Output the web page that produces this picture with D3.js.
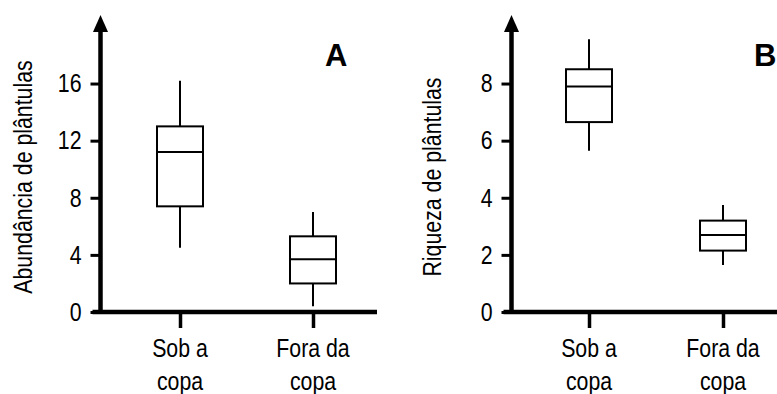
<!DOCTYPE html>
<meta charset="utf-8">
<style>
body { margin: 0; background: #fff; }
text { font-family: "Liberation Sans", Arial, sans-serif; fill: #000; }
.label { font-size: 26px; }
.letter { font-weight: bold; font-size: 31px; }
.box { fill: #fff; stroke: #000; stroke-width: 2px; }
.whisker, .median { stroke: #000; stroke-width: 2px; }
</style>
<body>
<script src="https://d3js.org/d3.v7.min.js"></script>
<script>

// categories (two lines each) and five-number summaries [min, q1, median, q3, max]
var categories = ["Sob a copa", "Fora da copa"];
var categoryLines = [["Sob a", "copa"], ["Fora da", "copa"]];
var abundanciaStats = [[4.5, 7.4, 11.2, 13.0, 16.2], [0.4, 2.0, 3.7, 5.3, 7.0]];
var riquezaStats = [[5.65, 6.65, 7.9, 8.5, 9.55], [1.65, 2.15, 2.7, 3.2, 3.75]];
var abundanciaTicks = [0, 4, 8, 12, 16];
var riquezaTicks = [0, 2, 4, 6, 8];

var width = 777, height = 394;
var narrow = 0.82; // the original uses a condensed face, squeeze the text horizontally

var svg = d3.select("body").append("svg")
    .attr("width", width)
    .attr("height", height);

// draw one panel
function panel(opt) {
  var g = svg.append("g");

  var y = d3.scaleLinear().domain([0, opt.yMax]).range([312, opt.yTop]);
  var x = d3.scalePoint().domain(categories).range(opt.xRange);

  // y axis with ticks
  var yAxis = g.append("g")
      .attr("transform", "translate(" + opt.axisX + ",0)")
      .call(d3.axisLeft(y).tickValues(opt.ticks).tickSize(10).tickPadding(9));
  yAxis.select(".domain").remove();
  yAxis.selectAll(".tick line").attr("stroke-width", 3);
  yAxis.selectAll(".tick text")
      .attr("class", "label").attr("font-size", null).attr("font-family", null)
      .attr("x", -19 / narrow)
      .attr("transform", "scale(" + narrow + ",1)");

  // vertical axis line and arrow
  g.append("line")
      .attr("x1", opt.axisX).attr("x2", opt.axisX)
      .attr("y1", y(0) + 2).attr("y2", y(opt.yMax) + 14)
      .attr("stroke", "#000").attr("stroke-width", 4.5);
  g.append("path")
      .attr("d", "M" + (opt.axisX - 7.5) + "," + (y(opt.yMax) + 17) +
                 "L" + opt.axisX + "," + y(opt.yMax) +
                 "L" + (opt.axisX + 7.5) + "," + (y(opt.yMax) + 17) + "Z")
      .attr("fill", "#000");

  // x axis
  var xAxis = g.append("g")
      .attr("transform", "translate(0," + y(0) + ")")
      .call(d3.axisBottom(x).tickSize(16).tickFormat(""));
  xAxis.select(".domain").remove();
  xAxis.selectAll(".tick line").attr("stroke-width", 3.5);
  g.append("line")
      .attr("x1", opt.axisX - 8).attr("x2", opt.xEnd)
      .attr("y1", y(0)).attr("y2", y(0))
      .attr("stroke", "#000").attr("stroke-width", 4.5);

  // category labels
  categories.forEach(function(c, i) {
    var t = g.append("text")
        .attr("class", "label")
        .attr("text-anchor", "middle")
        .attr("transform", "translate(" + x(c) + ",0) scale(" + narrow + ",1)");
    t.append("tspan").attr("x", 0).attr("y", 357).text(categoryLines[i][0]);
    t.append("tspan").attr("x", 0).attr("y", 390).text(categoryLines[i][1]);
  });

  // boxes
  var bw = 46;
  opt.stats.forEach(function(s, i) {
    var cx = x(categories[i]);
    g.append("line").attr("class", "whisker")
        .attr("x1", cx).attr("x2", cx).attr("y1", y(s[0])).attr("y2", y(s[1]));
    g.append("line").attr("class", "whisker")
        .attr("x1", cx).attr("x2", cx).attr("y1", y(s[3])).attr("y2", y(s[4]));
    g.append("rect").attr("class", "box")
        .attr("x", cx - bw / 2).attr("width", bw)
        .attr("y", y(s[3])).attr("height", y(s[1]) - y(s[3]));
    g.append("line").attr("class", "median")
        .attr("x1", cx - bw / 2).attr("x2", cx + bw / 2)
        .attr("y1", y(s[2])).attr("y2", y(s[2]));
  });

  // y axis title
  g.append("text")
      .attr("class", "label")
      .attr("text-anchor", "middle")
      .attr("transform", "translate(" + opt.titleX + ",177) rotate(-90) scale(" + narrow + ",1)")
      .text(opt.title);

  // panel letter
  g.append("text")
      .attr("class", "letter")
      .attr("x", opt.letterX).attr("y", 66)
      .text(opt.letter);
}

panel({
  stats: abundanciaStats, ticks: abundanciaTicks, yMax: 20.8, yTop: 15,
  axisX: 100.5, xRange: [180, 313], xEnd: 377,
  title: "Abundância de plântulas", titleX: 32, letter: "A", letterX: 325
});

panel({
  stats: riquezaStats, ticks: riquezaTicks, yMax: 10.4, yTop: 15,
  axisX: 511.5, xRange: [589, 723], xEnd: 780,
  title: "Riqueza de plântulas", titleX: 441, letter: "B", letterX: 754
});

</script>
</body>
